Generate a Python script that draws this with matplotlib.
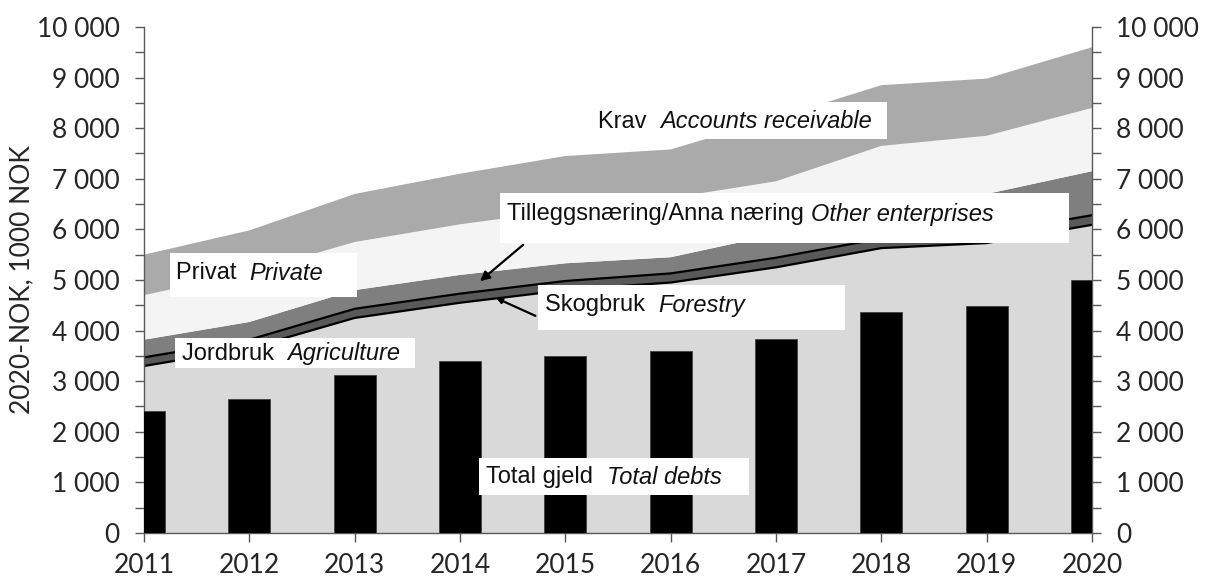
import matplotlib
matplotlib.use('Agg')
import matplotlib.pyplot as plt
from matplotlib.patches import Rectangle
from matplotlib.ticker import MultipleLocator, FuncFormatter

# data, 1000 NOK (2020-NOK)
years = [2011, 2012, 2013, 2014, 2015, 2016, 2017, 2018, 2019, 2020]
jordbruk = [3300, 3650, 4250, 4550, 4800, 4950, 5250, 5630, 5730, 6090]
skogbruk = [170, 170, 180, 180, 180, 180, 190, 190, 190, 190]
annen = [350, 350, 370, 370, 350, 320, 460, 580, 780, 870]
privat = [880, 980, 950, 1000, 1050, 1170, 1050, 1250, 1150, 1250]
krav = [800, 830, 950, 1000, 1070, 960, 1250, 1200, 1130, 1200]
total_gjeld = [2420, 2650, 3130, 3390, 3500, 3590, 3840, 4370, 4480, 5000]

tick_font = 'Lato'
lab_font = 'Liberation Sans'

fig = plt.figure(figsize=(12.05, 5.83), dpi=100)
ax = fig.add_axes([0.1195, 0.0858, 0.7867, 0.8679])

cols = ['#d9d9d9', '#595959', '#7f7f7f', '#f4f4f4', '#aaaaaa']
ax.stackplot(years, jordbruk, skogbruk, annen, privat, krav, colors=cols, lw=0)

# svart kant rundt skogbruk
top = [a + b for a, b in zip(jordbruk, skogbruk)]
ax.plot(years, jordbruk, color='black', lw=1.6)
ax.plot(years, top, color='black', lw=1.6)

ax.bar(years, total_gjeld, width=0.4, color='black', edgecolor='#404040', lw=0.6, zorder=3)

ax.set_xlim(2011, 2020)
ax.set_ylim(0, 10000)
ax.set_xticks(years)
ax.yaxis.set_major_locator(MultipleLocator(1000))
ax.yaxis.set_minor_locator(MultipleLocator(500))
ax.yaxis.set_major_formatter(FuncFormatter(lambda v, p: f'{int(v):,}'.replace(',', ' ')))

for s in ['left', 'right', 'bottom']:
    ax.spines[s].set_color('#595959')
    ax.spines[s].set_linewidth(1.0)
ax.spines['top'].set_visible(False)

ax.tick_params(axis='y', which='both', direction='out', length=6.5, width=1, color='#595959',
               left=True, right=True, labelleft=True, labelright=True, pad=11,
               labelsize=19, labelcolor='#262626')
ax.tick_params(axis='x', direction='out', length=6.5, width=1, color='#595959', pad=8,
               labelsize=19, labelcolor='#262626')
for t in ax.get_xticklabels() + ax.yaxis.get_majorticklabels():
    t.set_fontfamily(tick_font)

ax.set_ylabel('2020-NOK, 1000 NOK', fontsize=19, family=tick_font, color='#262626', labelpad=2)

# tekstbokser: (x0, x1, y0, y1, tekst x, tekst y, norsk, engelsk)
labels = [
    (2015.09, 2018.05, 7787, 8518, 2015.31, 8130, 'Krav', 'Accounts receivable'),
    (2014.38, 2019.78, 5731, 6719, 2014.45, 6300, 'Tilleggsnæring/Anna næring', 'Other enterprises'),
    (2011.25, 2013.02, 4664, 5534, 2011.30, 5130, 'Privat', 'Private'),
    (2011.29, 2013.57, 3261, 3854, 2011.36, 3540, 'Jordbruk', 'Agriculture'),
    (2014.74, 2017.66, 4012, 4901, 2014.81, 4500, 'Skogbruk', 'Forestry'),
    (2014.18, 2016.74, 751, 1482, 2014.25, 1100, 'Total gjeld', 'Total debts'),
]
for x0, x1, y0, y1, tx, ty, no, en in labels:
    ax.add_patch(Rectangle((x0, y0), x1 - x0, y1 - y0, fc='white', ec='none', zorder=5))
    gap = ' ' if no.startswith('Till') else '  '
    t = ax.text(tx, ty, no + gap, fontsize=17, family=lab_font, va='center', ha='left',
                color='#111111', zorder=6)
    fig.canvas.draw()
    bb = t.get_window_extent().transformed(ax.transData.inverted())
    ax.text(bb.x1, ty, en, fontsize=17, family=lab_font, style='italic', va='center',
            ha='left', color='#111111', zorder=6)

ax.annotate('', xy=(2014.17, 4941), xytext=(2014.62, 5731),
            arrowprops=dict(arrowstyle='-|>', color='black', lw=1.6, mutation_scale=14),
            zorder=7)
ax.annotate('', xy=(2014.32, 4664), xytext=(2014.74, 4269),
            arrowprops=dict(arrowstyle='-|>', color='black', lw=1.6, mutation_scale=8),
            zorder=7)

fig.savefig('out.png', dpi=100)
